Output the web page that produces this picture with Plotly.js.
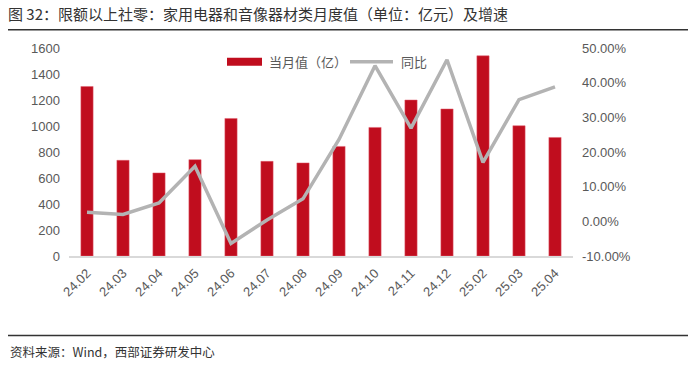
<!DOCTYPE html>
<html>
<head>
<meta charset="utf-8">
<script src="https://cdn.plot.ly/plotly-3.0.1.min.js"></script>
<style>
html,body{margin:0;padding:0;background:#fff;}
#chart{width:700px;height:368px;}
</style>
</head>
<body>
<div id="chart"></div>
<script>
const categories = ["24.02","24.03","24.04","24.05","24.06","24.07","24.08","24.09","24.10","24.11","24.12","25.02","25.03","25.04"];
const monthlyValue = [1304, 736, 639, 741, 1058, 728, 716, 843, 989, 1200, 1131, 1540, 1002, 912];
const yoyGrowth = [0.026, 0.020, 0.053, 0.159, -0.064, 0.004, 0.065, 0.236, 0.449, 0.269, 0.466, 0.170, 0.351, 0.388];
const leftTicks = [0,200,400,600,800,1000,1200,1400,1600];
const rightTicks = [-0.1,0,0.1,0.2,0.3,0.4,0.5];
const rightTickText = ["-10.00%","0.00%","10.00%","20.00%","30.00%","40.00%","50.00%"];
const seriesNames = ["当月值（亿）","同比"];
const titleText = "图 32：限额以上社零：家用电器和音像器材类月度值（单位：亿元）及增速";
const sourceText = "资料来源：Wind，西部证券研发中心";

const numFont = "Liberation Sans, Arial, sans-serif";
const cjkFont = "Noto Sans CJK SC, sans-serif";
const tickColor = "#595959";

const traces = [
  {
    type: "bar",
    x: categories,
    y: monthlyValue,
    name: seriesNames[0],
    marker: {color: "#C00D1E", line: {color: "#E06070", width: 0.5}},
    width: 0.34,
    yaxis: "y",
    showlegend: false,
    hoverinfo: "x+y"
  },
  {
    type: "scatter",
    mode: "lines",
    x: categories,
    y: yoyGrowth,
    name: seriesNames[1],
    line: {color: "#B3B3B3", width: 3.5},
    yaxis: "y2",
    showlegend: false
  }
];

const layout = {
  width: 700,
  height: 368,
  margin: {l: 69, r: 127, t: 48, b: 112, pad: 0},
  paper_bgcolor: "#fff",
  plot_bgcolor: "#fff",
  showlegend: false,
  font: {family: numFont, color: tickColor, size: 12},
  title: {
    text: titleText,
    font: {family: cjkFont, size: 15, color: "#333"},
    x: 8/700, xanchor: "left", xref: "container",
    y: 1 - 15/368, yanchor: "middle", yref: "container"
  },
  xaxis: {
    type: "category",
    range: [-0.5, 13.5],
    tickangle: -45,
    showline: true,
    linecolor: "#D9D9D9",
    linewidth: 1.5,
    ticks: "",
    showgrid: false,
    zeroline: false,
    ticklabelstandoff: 3,
    tickfont: {family: numFont, size: 13, color: tickColor}
  },
  yaxis: {
    range: [0, 1600],
    tickvals: leftTicks,
    ticktext: leftTicks.map(String),
    showgrid: false,
    zeroline: false,
    showline: false,
    ticks: "",
    ticklabelstandoff: 8,
    tickfont: {family: numFont, size: 13, color: tickColor}
  },
  yaxis2: {
    overlaying: "y",
    side: "right",
    range: [-0.1, 0.5],
    tickvals: rightTicks,
    ticktext: rightTickText,
    showgrid: false,
    zeroline: false,
    showline: false,
    ticks: "",
    ticklabelstandoff: 8,
    tickfont: {family: numFont, size: 13, color: tickColor}
  },
  shapes: [
    {type: "line", xref: "paper", yref: "paper", x0: -61/504, x1: 619/504,
     y0: (256.5-30)/208.2, y1: (256.5-30)/208.2, line: {color: "#333", width: 1.5}},
    {type: "line", xref: "paper", yref: "paper", x0: -61/504, x1: 619/504,
     y0: (256.5-336)/208.2, y1: (256.5-336)/208.2, line: {color: "#333", width: 1.5}},
    {type: "rect", xref: "paper", yref: "paper", x0: (227-69)/504, x1: (262-69)/504,
     y0: (256.5-66)/208.2, y1: (256.5-58)/208.2, fillcolor: "#C00D1E", line: {width: 0}},
    {type: "line", xref: "paper", yref: "paper", x0: (350-69)/504, x1: (393-69)/504,
     y0: (256.5-62)/208.2, y1: (256.5-62)/208.2, line: {color: "#B3B3B3", width: 3.5}}
  ],
  annotations: [
    {xref: "paper", yref: "paper", x: (267-69)/504, y: (256.5-62)/208.2, xanchor: "left", yanchor: "middle",
     text: seriesNames[0], showarrow: false, font: {family: cjkFont, size: 13, color: tickColor}},
    {xref: "paper", yref: "paper", x: (399-69)/504, y: (256.5-62)/208.2, xanchor: "left", yanchor: "middle",
     text: seriesNames[1], showarrow: false, font: {family: cjkFont, size: 13, color: tickColor}},
    {xref: "paper", yref: "paper", x: -61/504, y: (256.5-352)/208.2, xanchor: "left", yanchor: "middle",
     text: sourceText, showarrow: false, font: {family: cjkFont, size: 12.5, color: "#333"}}
  ]
};

Plotly.newPlot("chart", traces, layout, {displayModeBar: false, staticPlot: true});
</script>
</body>
</html>
